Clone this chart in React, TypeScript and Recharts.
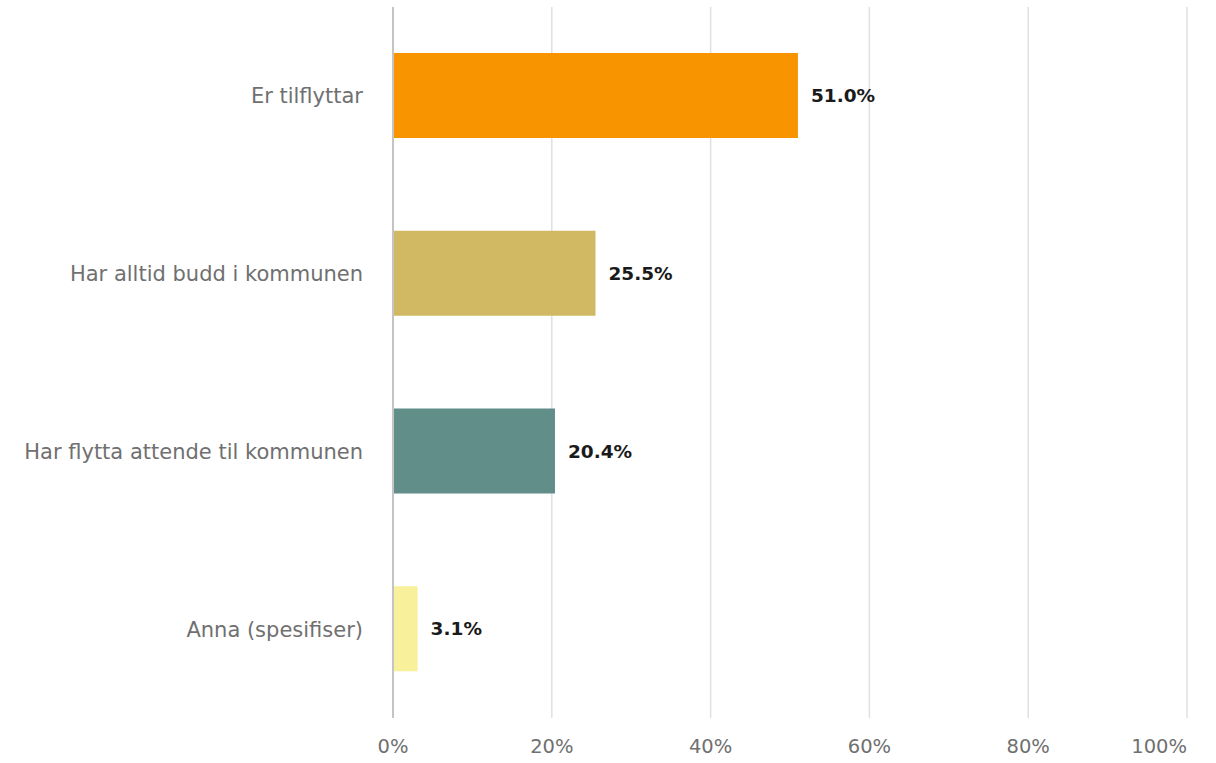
import { BarChart, Bar, XAxis, YAxis, CartesianGrid, LabelList, Cell } from 'recharts'

const categories = ['Er tilflyttar', 'Har alltid budd i kommunen', 'Har flytta attende til kommunen', 'Anna (spesifiser)']
const values = [51.0, 25.5, 20.4, 3.1]
const colors = ['#f79400', '#d1b862', '#618e89', '#f8f09a']
const xTicks = [0, 20, 40, 60, 80, 100]

const data = categories.map((name, i) => ({ name, value: values[i] }))

const font = '"DejaVu Sans", Verdana, sans-serif'

// last tick label is kept inside the chart, like the original
function XTick(props: any) {
  const { x, y, payload, index } = props
  const last = index === xTicks.length - 1
  return (
    <text
      x={x}
      y={y}
      dy="0.71em"
      textAnchor={last ? 'end' : 'middle'}
      fill="#707070"
      fontSize={19.5}
      fontFamily={font}
    >
      {`${payload.value}%`}
    </text>
  )
}

export default function App() {
  return (
    <div style={{ position: 'absolute', left: 0, top: 0, background: '#fff' }}>
      <BarChart
        width={1216}
        height={763}
        data={data}
        layout="vertical"
        margin={{ top: 7, right: 29, bottom: 0, left: 0 }}
      >
        <CartesianGrid horizontal={false} stroke="#e0e0e0" strokeWidth={1.5} />
        <XAxis
          type="number"
          domain={[0, 100]}
          ticks={xTicks}
          axisLine={false}
          tickLine={false}
          height={45}
          tickMargin={15}
          tick={<XTick />}
        />
        <YAxis
          type="category"
          dataKey="name"
          width={393}
          axisLine={{ stroke: '#c4c4c4', strokeWidth: 2 }}
          tickLine={false}
          tickMargin={24}
          tick={{ fill: '#707070', fontSize: 21, fontFamily: font }}
        />
        <Bar dataKey="value" barSize={85} isAnimationActive={false}>
          {data.map((d, i) => (
            <Cell key={d.name} fill={colors[i]} />
          ))}
          <LabelList
            dataKey="value"
            position="right"
            offset={13}
            formatter={(v: number) => `${v.toFixed(1)}%`}
            style={{ fill: '#1a1a1a', fontSize: 18.5, fontWeight: 'bold', fontFamily: font }}
          />
        </Bar>
      </BarChart>
    </div>
  )
}
